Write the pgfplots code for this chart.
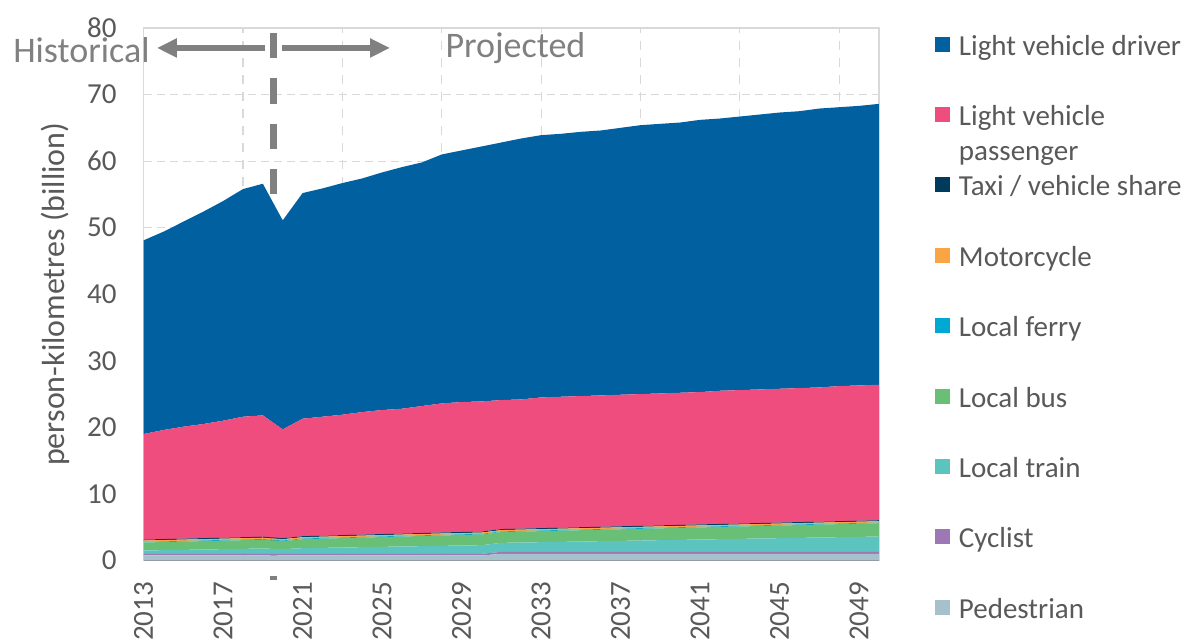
\documentclass[border=0pt]{standalone}
\usepackage{fontspec}
\setmainfont{Carlito}
\usepackage{pgfplots}
\pgfplotsset{compat=1.18}
\usepackage{pgfplotstable}
\usetikzlibrary{arrows.meta}
\definecolor{drvc}{HTML}{0060A0}
\definecolor{passc}{HTML}{EE4D7E}
\definecolor{taxic}{HTML}{003A5C}
\definecolor{motoc}{HTML}{FBA445}
\definecolor{ferryc}{HTML}{00A9D4}
\definecolor{busc}{HTML}{6ABF76}
\definecolor{trainc}{HTML}{5BC4BE}
\definecolor{cycc}{HTML}{9E77B5}
\definecolor{pedc}{HTML}{A6C0CC}
\definecolor{gridc}{HTML}{D9D9D9}
\definecolor{tc}{HTML}{595959}
\definecolor{annc}{HTML}{808080}
\definecolor{botc}{HTML}{898989}

\pgfplotstableread{
year ped cyc train bus ferry moto taxi pass drv
2013 0.75 0.25 0.50 1.20 0.10 0.20 0.15 15.85 29.1
2014 0.75 0.25 0.55 1.22 0.10 0.20 0.15 16.38 29.8
2015 0.75 0.25 0.60 1.24 0.10 0.20 0.15 16.81 30.8
2016 0.75 0.25 0.65 1.26 0.10 0.20 0.15 17.14 31.9
2017 0.75 0.25 0.70 1.28 0.10 0.20 0.15 17.57 33.0
2018 0.75 0.25 0.75 1.30 0.10 0.20 0.15 18.10 34.2
2019 0.75 0.25 0.80 1.32 0.10 0.20 0.15 18.23 34.8
2020 0.75 0.25 0.70 1.20 0.10 0.20 0.15 16.35 31.4
2021 0.75 0.25 0.85 1.35 0.10 0.20 0.15 17.65 33.9
2022 0.75 0.25 0.90 1.38 0.10 0.20 0.15 17.87 34.3
2023 0.75 0.25 0.95 1.41 0.10 0.20 0.15 18.09 34.8
2024 0.75 0.25 1.00 1.44 0.10 0.20 0.15 18.41 35.1
2025 0.75 0.25 1.05 1.47 0.10 0.20 0.15 18.63 35.7
2026 0.75 0.25 1.10 1.50 0.10 0.20 0.15 18.75 36.3
2027 0.75 0.25 1.15 1.53 0.10 0.20 0.15 19.07 36.6
2028 0.75 0.25 1.20 1.56 0.10 0.20 0.15 19.39 37.4
2029 0.75 0.25 1.25 1.58 0.10 0.20 0.15 19.52 37.8
2030 0.75 0.25 1.30 1.60 0.10 0.20 0.15 19.55 38.3
2031 1.00 0.30 1.35 1.62 0.10 0.20 0.15 19.38 38.7
2032 1.00 0.30 1.40 1.64 0.10 0.20 0.15 19.41 39.2
2033 1.00 0.30 1.45 1.66 0.10 0.20 0.15 19.64 39.4
2034 1.00 0.30 1.50 1.68 0.10 0.20 0.15 19.67 39.5
2035 1.00 0.30 1.55 1.70 0.10 0.20 0.15 19.70 39.7
2036 1.00 0.30 1.60 1.72 0.10 0.20 0.15 19.73 39.8
2037 1.00 0.30 1.65 1.74 0.10 0.20 0.15 19.76 40.1
2038 1.00 0.30 1.70 1.76 0.10 0.20 0.15 19.79 40.4
2039 1.00 0.30 1.75 1.78 0.10 0.20 0.15 19.82 40.5
2040 1.00 0.30 1.80 1.80 0.10 0.20 0.15 19.85 40.6
2041 1.00 0.30 1.85 1.82 0.10 0.20 0.15 19.88 40.9
2042 1.00 0.30 1.90 1.84 0.10 0.20 0.15 20.01 40.9
2043 1.00 0.30 1.95 1.86 0.10 0.20 0.15 20.04 41.1
2044 1.00 0.30 2.00 1.88 0.10 0.20 0.15 20.07 41.3
2045 1.00 0.30 2.05 1.90 0.10 0.20 0.15 20.10 41.5
2046 1.00 0.30 2.10 1.92 0.10 0.20 0.15 20.13 41.6
2047 1.00 0.30 2.15 1.94 0.10 0.20 0.15 20.16 41.9
2048 1.00 0.30 2.20 1.96 0.10 0.20 0.15 20.29 41.9
2049 1.00 0.30 2.25 1.98 0.10 0.20 0.15 20.32 42.0
2050 1.00 0.30 2.30 2.00 0.10 0.20 0.15 20.35 42.2
}\data

\begin{document}
\begin{tikzpicture}
\begin{axis}[
  at={(0,0)}, anchor=south west,
  scale only axis, width=367.7pt, height=266.25pt,
  xmin=2013, xmax=2050, ymin=0, ymax=80,
  xtick={2013,2017,...,2049},
  minor xtick={2018,2023,...,2048},
  ytick={0,10,...,80},
  xmajorgrids=false, xminorgrids=true, ymajorgrids=true,
  major tick length=0pt, minor tick length=0pt,
  major grid style={draw=gridc, line width=0.6pt, dash pattern=on 4pt off 2.5pt},
  minor grid style={draw=gridc, line width=0.6pt, dash pattern=on 4.5pt off 4pt},
  axis line style={draw=gridc, line width=0.6pt},
  /pgf/number format/assume math mode=true,
  /pgf/number format/1000 sep={},
  ticklabel style={font=\fontsize{14.5}{17}\selectfont, text=tc},
  yticklabel style={anchor=east, inner sep=0pt, xshift=-13.3pt},
  xticklabel style={yshift=-10.6pt, rotate=90, anchor=east, inner sep=0pt},
  ylabel={person-kilometres (billion)},
  every axis y label/.style={at={(axis description cs:0,0.5)}, xshift=-44.3pt, rotate=90, anchor=center, font=\fontsize{16}{19}\selectfont, text=tc},
  stack plots=y,
  clip=false,
  legend cell align=left,
  reverse legend,
  legend image code/.code={\fill[#1] (0pt,8.35pt) rectangle (7.5pt,15.85pt);},
  legend style={at={(1.0761,0.9906)}, anchor=north west, draw=none, fill=none,
    inner sep=0pt, outer sep=0pt, row sep=0pt, column sep=4.5pt,
    font=\fontsize{14.5}{17.5}\selectfont, text=tc,
    nodes={inner sep=0pt, text height=11pt, text depth=24.2pt}},
]
\addplot[fill=pedc, draw=none] table[x=year, y=ped]{\data} \closedcycle;
\addlegendentry{Pedestrian}
\addplot[fill=cycc, draw=none] table[x=year, y=cyc]{\data} \closedcycle;
\addlegendentry{Cyclist}
\addplot[fill=trainc, draw=none] table[x=year, y=train]{\data} \closedcycle;
\addlegendentry{Local train}
\addplot[fill=busc, draw=none] table[x=year, y=bus]{\data} \closedcycle;
\addlegendentry{Local bus}
\addplot[fill=ferryc, draw=none] table[x=year, y=ferry]{\data} \closedcycle;
\addlegendentry{Local ferry}
\addplot[fill=motoc, draw=none] table[x=year, y=moto]{\data} \closedcycle;
\addlegendentry{Motorcycle}
\addplot[fill=taxic, draw=none] table[x=year, y=taxi]{\data} \closedcycle;
\addlegendentry{Taxi / vehicle share}
\addplot[fill=passc, draw=none] table[x=year, y=pass]{\data} \closedcycle;
\addlegendentry{\parbox[t]{120pt}{Light vehicle\\passenger}}
\addplot[fill=drvc, draw=none] table[x=year, y=drv]{\data} \closedcycle;
\addlegendentry{Light vehicle driver}

\draw[botc, line width=1pt] (axis description cs:0,0) -- (axis description cs:1,0);
\draw[annc, line width=3.2pt, dash pattern=on 12.65pt off 9.98pt] (axis cs:2019.53,79.25) -- (axis cs:2019.53,-2.9);
\draw[annc, line width=3pt, -{Triangle[length=10pt,width=9pt]}] (axis cs:2019.11,77) -- (axis cs:2013.67,77);
\draw[annc, line width=3pt, -{Triangle[length=10pt,width=9pt]}] (axis cs:2019.96,77) -- (axis cs:2025.4,77);
\node[anchor=base east, font=\fontsize{18}{20}\selectfont, text=annc, inner sep=0pt] at ([xshift=3.2pt]axis cs:2013,74.75) {Historical};
\node[anchor=base west, font=\fontsize{18}{20}\selectfont, text=annc, inner sep=0pt] at (axis cs:2028.17,75.6) {Projected};
\end{axis}
\pgfresetboundingbox
\path[use as bounding box] (-71.8pt,-39.75pt) rectangle (522.7pt,280.25pt);
\end{tikzpicture}
\end{document}
